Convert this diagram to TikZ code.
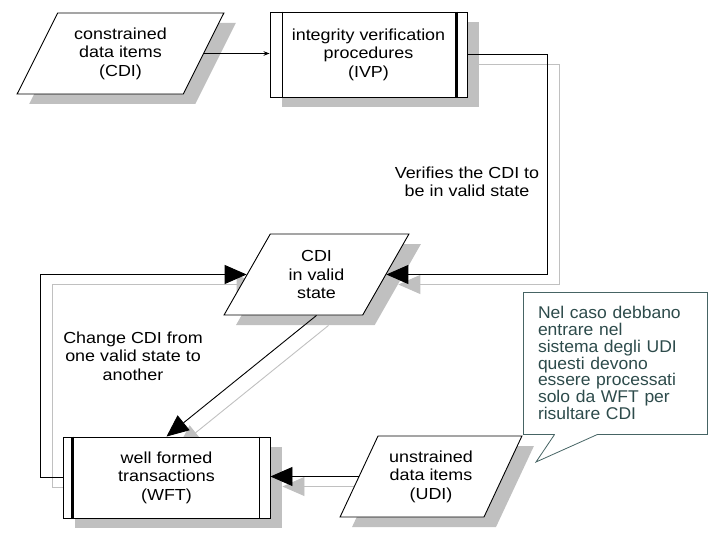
\documentclass[tikz,border=0pt]{standalone}
\usepackage{fontspec}
\setmainfont{Liberation Sans}[FakeStretch=1.12]
\newfontfamily\calloutfont{Liberation Sans}[FakeStretch=1.03]
\usetikzlibrary{shapes.geometric,shadows,arrows.meta,calc}
\pgfdeclarelayer{bg}
\pgfsetlayers{bg,main}
\definecolor{shadowgray}{RGB}{192,192,192}
\definecolor{calloutline}{RGB}{70,100,100}
\definecolor{callouttext}{RGB}{45,75,75}
\begin{document}
\begin{tikzpicture}[x=1pt,y=-1pt,
  every node/.style={font=\fontsize{16}{18.5}\selectfont},
  shadowed/.style={drop shadow={shadow xshift=12pt,shadow yshift=-10pt,fill=shadowgray,opacity=1}},
  para/.style={draw, fill=white, line width=0.9pt, trapezium, trapezium left angle=60, trapezium right angle=120, trapezium stretches=true, minimum height=81pt, align=center, shadowed, inner sep=0pt},
  procbox/.style={draw, fill=white, line width=0.9pt, rectangle, align=center, shadowed, inner sep=0pt},
  conn/.style={line width=0.9pt, -{Triangle[length=22pt,width=19pt]}},
  connshadow/.style={line width=0.9pt, draw=shadowgray, -{Triangle[length=22pt,width=19pt]}, transform canvas={shift={(12pt,-10pt)}}},
  smallconn/.style={line width=0.9pt, -{Stealth[length=6pt,width=4.5pt]}},
  lbl/.style={align=center, inner sep=0pt},
  callout/.style={draw=calloutline, fill=white, line width=0.8pt, text=callouttext, align=left, font=\calloutfont\fontsize{17}{16.7}\selectfont, text width=154pt, inner xsep=15pt, inner ysep=0pt, minimum width=184pt, minimum height=142pt}
]
\useasboundingbox (0,0) rectangle (720,540);

% nodes
\node[para, minimum width=207pt] (cdi) at (120.5,53.5) {constrained\\data items\\(CDI)};
\node[procbox, minimum width=197pt, minimum height=85pt] (ivp) at (368.5,54.5) {integrity verification\\procedures\\(IVP)};
\node[para, minimum width=185pt] (cdiv) at (316.5,274.5) {CDI\\in valid\\state};
\node[procbox, minimum width=207pt, minimum height=81pt] (wft) at (166.5,477.5) {well formed\\transactions\\(WFT)};
\node[para, minimum width=182pt] (udi) at (431,476.5) {unstrained\\data items\\(UDI)};

% inner bars of process boxes
\draw[line width=0.9pt] ([xshift=13pt]ivp.north west) -- ([xshift=13pt]ivp.south west);
\draw[line width=2.2pt] ([xshift=-11pt]ivp.north east) -- ([xshift=-11pt]ivp.south east);
\draw[line width=2.2pt] ([xshift=10pt]wft.north west) -- ([xshift=10pt]wft.south west);
\draw[line width=0.9pt] ([xshift=-11pt]wft.north east) -- ([xshift=-11pt]wft.south east);

% labels
\node[lbl] (verlbl) at (467,182) {Verifies the CDI to\\be in valid state};
\node[lbl] (chglbl) at (133,356) {Change CDI from\\one valid state to\\another};

% connector shadows
\begin{pgfonlayer}{bg}
\draw[connshadow] (ivp.east) -- ++(80,0) |- (cdiv.east);
\draw[connshadow] (wft.west) -- ++(-22,0) |- (cdiv.west);
\draw[connshadow] (cdiv.south) -- (wft.north);
\draw[connshadow] (udi.west) -- (udi.west -| wft.east);
\end{pgfonlayer}

% connectors
\draw[smallconn] (cdi.east) -- (cdi.east -| ivp.west);
\draw[conn] (ivp.east) -- ++(80,0) |- (cdiv.east);
\draw[conn] (wft.west) -- ++(-22,0) |- (cdiv.west);
\draw[conn] (cdiv.south) -- (wft.north);
\draw[conn] (udi.west) -- (udi.west -| wft.east);

% callout
\node[callout] (note) at (615,363) {Nel caso debbano\\entrare nel\\sistema degli UDI\\questi devono\\essere processati\\solo da WFT per\\risultare CDI};
\coordinate (tip) at (536,462);
\coordinate (pa) at ($(note.south west)+(32,0)$);
\coordinate (pb) at ($(note.south west)+(75,0)$);
\fill[white] (pa) -- (tip) -- (pb) -- cycle;
\draw[white, line width=1.4pt] ([xshift=0.7pt]pa) -- ([xshift=-0.7pt]pb);
\draw[calloutline, line width=0.8pt] (pa) -- (tip) -- (pb);
\end{tikzpicture}
\end{document}
